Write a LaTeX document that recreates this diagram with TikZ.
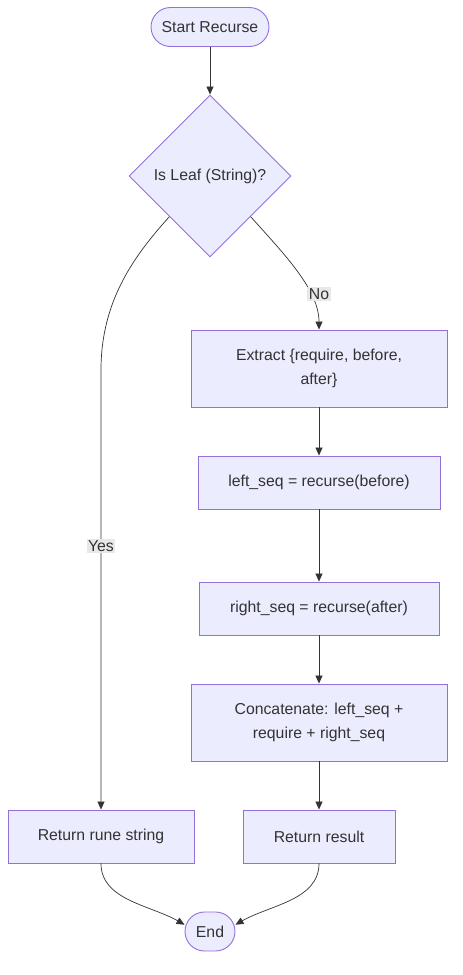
\documentclass[tikz,border=0pt]{standalone}
\usepackage{fontspec}
\setmainfont{Liberation Sans}
\usepackage{tikz}
\usetikzlibrary{shapes.geometric,arrows.meta,calc}

\definecolor{boxfill}{HTML}{ECECFF}
\definecolor{boxline}{HTML}{9370DB}
\definecolor{txt}{HTML}{333333}
\definecolor{lblbg}{HTML}{E8E8E8}

\tikzset{
  flowbox/.style={draw=boxline,fill=boxfill,text=txt,line width=0.9pt,
    font=\fontsize{15.8}{24}\selectfont,align=center,inner sep=0pt},
  termbox/.style={flowbox,rounded corners=19.5pt,minimum height=39pt},
  decbox/.style={flowbox,diamond,minimum width=162pt,minimum height=162pt},
  edgelbl/.style={fill=lblbg,text=txt,font=\fontsize{15.8}{18}\selectfont,inner sep=1.5pt},
  arr/.style={draw=txt,line width=0.7pt,-{Triangle[length=8pt,width=7pt]}}
}

\begin{document}
\begin{tikzpicture}[x=1pt,y=-1pt]
  \useasboundingbox (0,0) rectangle (463,975);

  \node[termbox,minimum width=118pt] (start) at (210,27) {Start Recurse};
  \node[decbox] (leaf) at (210,176) {Is Leaf (String)?};
  \node[flowbox,minimum width=256pt,minimum height=77pt] (extract) at (319,368.5) {Extract \{require, before,\\after\}};
  \node[flowbox,minimum width=242pt,minimum height=53pt] (lseq) at (319,482.5) {left\_seq = recurse(before)};
  \node[flowbox,minimum width=240pt,minimum height=53pt] (rseq) at (319,608.5) {right\_seq = recurse(after)};
  \node[flowbox,minimum width=256pt,minimum height=77pt] (concat) at (319,722.5) {Concatenate: left\_seq +\\require + right\_seq};
  \node[flowbox,minimum width=186pt,minimum height=53pt] (rune) at (101,836.5) {Return rune string};
  \node[flowbox,minimum width=152pt,minimum height=53pt] (result) at (319,836.5) {Return result};
  \node[termbox,minimum width=50pt] (end) at (210,931.5) {End};

  \draw[arr] (start) -- (leaf);
  % yes branch
  \draw[arr] (leaf.south west) .. controls (135,255) and (101,300) .. (101,370) -- (rune.north);
  % no branch
  \draw[arr] (leaf.south east) .. controls (285,255) and (319,290) .. (extract.north);
  \node[edgelbl] (yes) at (101,546) {Yes};
  \node[edgelbl] (no) at (319,294) {No};

  \draw[arr] (extract) -- (lseq);
  \draw[arr] (lseq) -- (rseq);
  \draw[arr] (rseq) -- (concat);
  \draw[arr] (concat) -- (result);

  \draw[arr] (rune.south) .. controls (101,900) and (150,905) .. (end.165);
  \draw[arr] (result.south) .. controls (319,900) and (270,905) .. (end.15);
\end{tikzpicture}
\end{document}
